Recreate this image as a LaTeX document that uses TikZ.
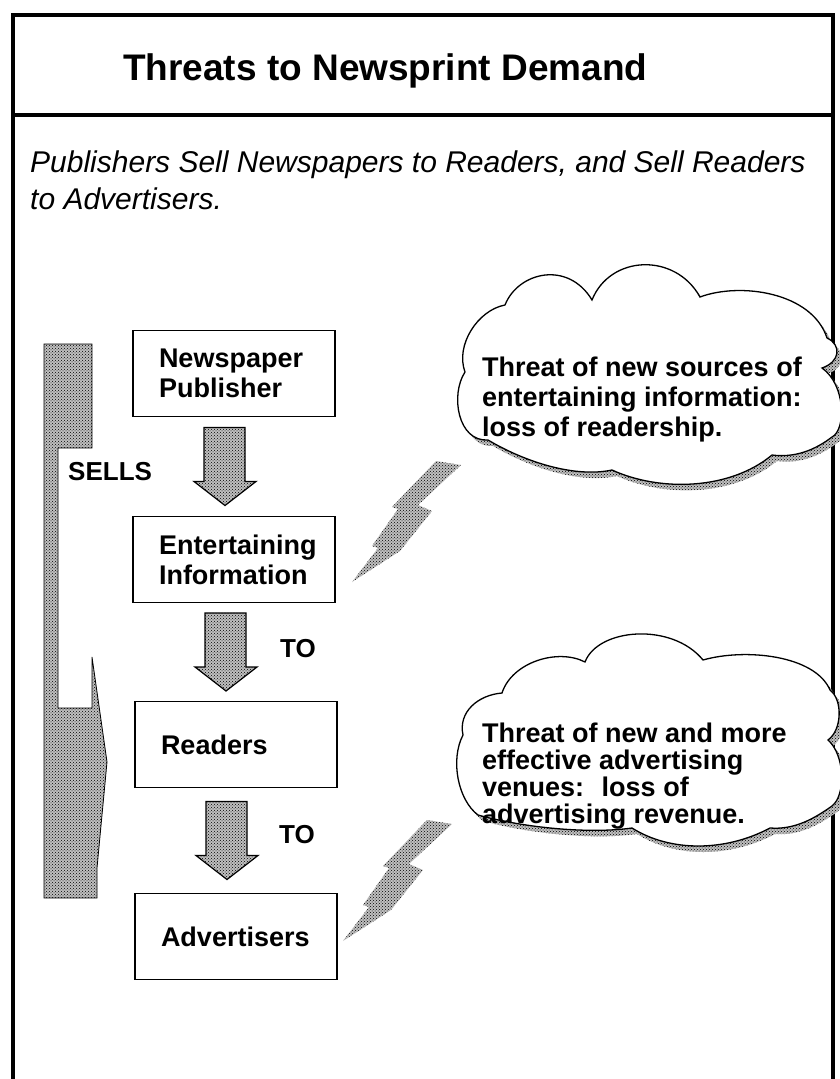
\documentclass[tikz,border=0pt]{standalone}
\usepackage{fontspec}
\setmainfont{Liberation Sans}
\usetikzlibrary{calc, patterns}

% halftone fill of the scan
\tikzset{
  dotfill/.style={preaction={fill=black!25}, pattern=crosshatch dots},
  framebar/.style={line width=4pt},
  textbox/.style={draw, line width=1.6pt, minimum width=202pt, minimum height=86pt,
    text width=150pt, align=left, inner sep=0pt, font=\bfseries\fontsize{27}{30}\selectfont},
  lbl/.style={inner sep=0pt, font=\bfseries\fontsize{26}{30}\selectfont},
  cloudtext/.style={anchor=north west, inner sep=0pt, align=left},
  downarrow/.pic={
    \draw[dotfill, line width=1.2pt] (-21,-39) -- (20,-39) -- (20,15) -- (31,15)
      -- (0,39) -- (-31,15) -- (-21,15) -- cycle;
  },
  bolt/.pic={
    \fill[dotfill] (0,0) -- (-43,40) -- (-29,46) -- (-61,86) -- (-109,117) -- (-83,83)
      -- (-89,81) -- (-63,44) -- (-69,42) -- (-25,-4) -- cycle;
  },
  cloudone/.style={insert path={
    (465,372) .. controls (455,345) and (478,310) .. (505,305)
    .. controls (518,272) and (568,260) .. (592,300)
    .. controls (610,255) and (675,252) .. (700,297)
    .. controls (740,282) and (812,292) .. (827,338)
    .. controls (842,345) and (840,362) .. (822,368)
    .. controls (846,385) and (846,430) .. (832,437)
    .. controls (815,450) and (795,458) .. (772,455)
    .. controls (730,490) and (660,492) .. (612,470)
    .. controls (575,478) and (525,462) .. (488,440)
    .. controls (458,442) and (450,395) .. (465,372) -- cycle}},
  cloudtwo/.style={insert path={
    (463,735) .. controls (458,712) and (478,695) .. (502,693)
    .. controls (512,662) and (558,648) .. (585,662)
    .. controls (598,628) and (672,622) .. (703,660)
    .. controls (745,648) and (815,655) .. (830,690)
    .. controls (843,700) and (842,730) .. (828,740)
    .. controls (845,755) and (846,795) .. (832,806)
    .. controls (815,818) and (795,830) .. (770,828)
    .. controls (725,852) and (670,852) .. (632,828)
    .. controls (590,834) and (525,828) .. (478,815)
    .. controls (458,800) and (450,760) .. (463,735) -- cycle}}
}

\begin{document}
\begin{tikzpicture}[x=1pt, y=-1pt]
    \useasboundingbox (0,0) rectangle (840,1079);

    % khung ngoai va thanh tieu de
    \draw[framebar] (13,1079) -- (13,15) -- (833,15) -- (833,1079);
    \draw[framebar] (13,115) -- (833,115);
    \node[anchor=base west, inner sep=0pt, font=\bfseries\fontsize{37}{44}\selectfont] (title) at (123,80) {Threats to Newsprint Demand};
    \node[cloudtext, font=\itshape\fontsize{30}{37}\selectfont] (subtitle) at (30,151) {Publishers Sell Newspapers to Readers, and Sell Readers\\to Advertisers.};

    % dai SELLS ben trai
    \draw[dotfill, line width=0.8pt] (44,344) -- (92,344) -- (92,448) -- (58,448) -- (58,708) -- (92,708)
        -- (92,657) -- (107,762) -- (97,868) -- (97,898) -- (44,898) -- cycle;
    \node[lbl, anchor=base west] (sells) at (68,480) {SELLS};

    % cac hop
    \node[textbox] (pub) at (234,373.5) {Newspaper\\Publisher};
    \node[textbox] (info) at (234,559.5) {Entertaining\\Information};
    \node[textbox] (readers) at (236,744.5) {Readers};
    \node[textbox] (adv) at (236,936.5) {Advertisers};

    % mui ten giua cac hop
    \pic at ($(pub.south)!0.5!(info.north)+(-9,0)$) {downarrow};
    \pic at ($(info.south)!0.5!(readers.north)+(-9,0)$) {downarrow};
    \pic at ($(readers.south)!0.5!(adv.north)+(-9,0)$) {downarrow};
    \node[lbl, anchor=base west] (toone) at (280,657) {TO};
    \node[lbl, anchor=base west] (totwo) at (279,843) {TO};

    % tia set
    \pic at (461,465) {bolt};
    \pic at (452,824) {bolt};

    % dam may thu nhat
    \fill[dotfill, shift={(5,6)}, cloudone];
    \draw[fill=white, line width=1.3pt, cloudone];
    \node[cloudtext, font=\bfseries\fontsize{27}{30}\selectfont] (threatone) at (482,357) {Threat of new sources of\\entertaining information:\\loss of readership.};

    % dam may thu hai
    \fill[dotfill, shift={(5,6)}, cloudtwo];
    \draw[fill=white, line width=1.3pt, cloudtwo];
    \node[cloudtext, font=\bfseries\fontsize{27}{27}\selectfont] (threattwo) at (482,723) {Threat of new and more\\effective advertising\\venues:~ loss of\\advertising revenue.};
\end{tikzpicture}
\end{document}
